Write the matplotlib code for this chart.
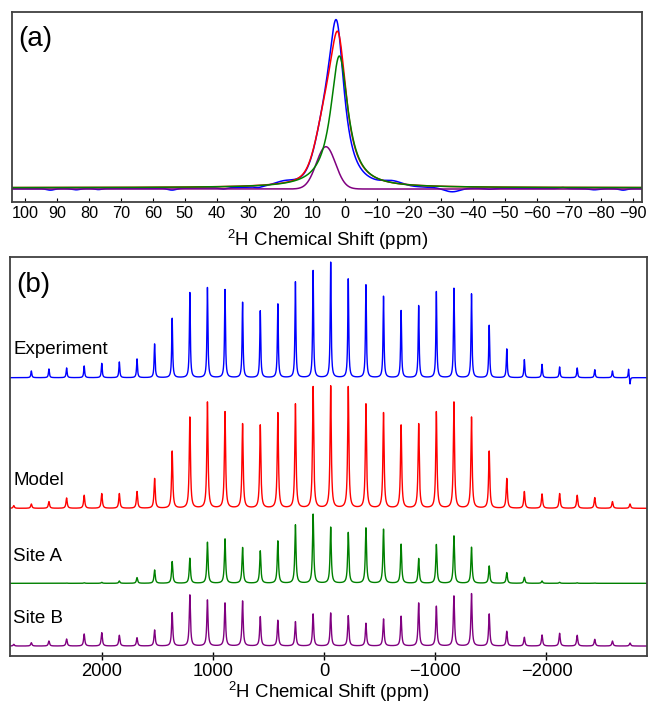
import numpy as np
import matplotlib
matplotlib.use('Agg')
import matplotlib.pyplot as plt

plt.rcParams['font.family'] = ['Liberation Sans', 'DejaVu Sans']
plt.rcParams['mathtext.fontset'] = 'custom'
plt.rcParams['mathtext.rm'] = 'Liberation Sans'
plt.rcParams['mathtext.it'] = 'Liberation Sans:italic'
plt.rcParams['mathtext.bf'] = 'Liberation Sans:bold'

# ---------------- Panel (a): centreband lineshapes (ppm, intensity) ----------------
a_ticks = list(range(100, -91, -10))
# experiment: Lorentzian main peak + Gaussian left part + small shoulders / dips
exp_a_l = (2.5, 148.0, 3.0)
exp_a_g = (6.0, 40.0, 3.0)
exp_a_base = 12.9
exp_a_feat_pos = [19.0, -15.0, -33.5, 92.0, 84.0, 77.0, 54.0, 38.0, 27.0, -45.0, -78.0, -87.0, -68.0]
exp_a_feat_h = [3.5, 4.0, -4.0, -1.5, -1.2, -1.0, -1.8, -1.2, -1.0, -1.0, -1.2, -1.5, 1.0]
exp_a_feat_w = [3.0, 3.0, 2.5, 1.2, 1.2, 1.0, 1.3, 1.2, 1.0, 1.5, 1.5, 1.2, 1.0]
# model (red): Lorentzian site A part + Gaussian site B part
model_a_l = (2.0, 137.0, 3.3)
model_a_g = (5.9, 42.3, 3.0)
model_a_base = 14.0
# site A (green): Lorentzian
siteA_a = (1.7, 131.7, 3.3)
siteA_a_base = 14.0
# site B (purple): Gaussian
siteB_a = (5.9, 42.3, 3.0)
siteB_a_base = 12.7

# ---------------- Panel (b): spinning sideband manifolds ----------------
sb_ppm = [2789, 2631, 2473, 2314, 2156, 1998, 1840, 1681, 1523, 1365, 1206, 1048,
          890, 732, 573, 415, 257, 98, -60, -218, -377, -535, -693, -851,
          -1010, -1168, -1326, -1485, -1643, -1801, -1960, -2118, -2276, -2434, -2593, -2751]
exp_h = [0, 6.7, 8.7, 9.7, 11.7, 14.3, 15.7, 18.7, 33.7, 59.3, 85, 90,
         88, 75.3, 66.7, 73.7, 95.7, 107, 115.3, 98.7, 92.7, 81.3, 67, 72,
         86, 89.3, 83.7, 52.3, 28.7, 18, 13.3, 10.7, 9.7, 8, 6.7, 0]
model_h = [2.7, 4.3, 6.7, 10.3, 13, 14.7, 14.7, 16.7, 29.7, 57, 91, 106,
           96.3, 84.3, 83, 95.3, 104, 121.3, 122, 121.3, 104, 95.3, 83, 84.3,
           96.3, 106, 91, 57, 29.7, 16.7, 14.3, 14.7, 13, 10.7, 6.7, 4.3]
siteA_h = [0, 0, 0, 0.3, 0.5, 1, 2.3, 5.7, 13.3, 21.7, 25, 41,
           44.3, 35.7, 32.3, 42.3, 58.3, 69, 56, 50.7, 55.3, 54, 39, 24.7,
           38.7, 47.3, 36, 17.3, 10.7, 6, 2.3, 1, 0.5, 0.3, 0, 0]
siteB_h = [1.7, 3.3, 5, 7, 12, 13.3, 10.7, 8.3, 16, 33.3, 51, 46,
           43, 45, 29.3, 25.7, 24.3, 32, 33, 30.3, 22.7, 27, 29.7, 43,
           39.7, 50, 52.3, 32, 14.7, 8.7, 11, 12.7, 10.7, 6.7, 5, 3]
# dispersive artefact in the experiment near the right edge
exp_disp_pos = [-2738, -2751]
exp_disp_h = [9.0, -7.0]
b_ticks = [2000, 1000, 0, -1000, -2000]
trace_names = ['Experiment', 'Model', 'Site A', 'Site B']
trace_offsets = [278.0, 147.4, 72.4, 9.7]
label_baselines = [301.4, 170.7, 95.0, 32.4]
colors = ['#0000ff', '#ff0000', '#008000', '#800080']
xlabel = r'$^{2}$H Chemical Shift (ppm)'


def lor(x, c, h, hw):
    return h / (1.0 + ((x - c) / hw) ** 2)


def gau(x, c, h, s):
    return h * np.exp(-0.5 * ((x - c) / s) ** 2)


fig = plt.figure(figsize=(6.48, 7.06), dpi=100)
axa = fig.add_axes([0.0191, 0.7143, 0.9716, 0.2683])
axb = fig.add_axes([0.0154, 0.0712, 0.9826, 0.5644])

# ---- panel (a)
xa = np.linspace(104, -93, 6001)
blue = exp_a_base + lor(xa, *exp_a_l) + gau(xa, *exp_a_g)
for p, h, w in zip(exp_a_feat_pos, exp_a_feat_h, exp_a_feat_w):
    blue = blue + gau(xa, p, h, w)
red = model_a_base + lor(xa, *model_a_l) + gau(xa, *model_a_g)
green = siteA_a_base + lor(xa, *siteA_a)
purple = siteB_a_base + gau(xa, *siteB_a)

axa.plot(xa, blue, color=colors[0], lw=1.1)
axa.plot(xa, red, color=colors[1], lw=1.1)
axa.plot(xa, purple, color=colors[3], lw=1.1)
axa.plot(xa, green, color=colors[2], lw=1.1)
axa.set_xlim(103.9, -92.9)
axa.set_ylim(0, 189.4)
axa.set_yticks([])
axa.set_xticks(a_ticks)
axa.tick_params(axis='x', direction='in', length=3, width=0.8, labelsize=11.7, pad=3)
axa.set_xlabel(xlabel, fontsize=13.4, labelpad=5)
axa.text(0.0098, 0.82, '(a)', transform=axa.transAxes, fontsize=20, ha='left', va='baseline')

# ---- panel (b)
xb = np.linspace(2823, -2901, 24001)
pos = np.array(sb_ppm, dtype=float)[:, None]


def manifold(heights, hw):
    h = np.array(heights, dtype=float)[:, None]
    return (h / (1.0 + ((xb[None, :] - pos) / hw) ** 2)).sum(axis=0)


exp_trace = manifold(exp_h, 5.0)
for p, h in zip(exp_disp_pos, exp_disp_h):
    exp_trace = exp_trace + lor(xb, p, h, 4.0)
traces = [exp_trace, manifold(model_h, 6.5), manifold(siteA_h, 6.5), manifold(siteB_h, 6.5)]

for tr, off, col in zip(traces, trace_offsets, colors):
    axb.plot(xb, tr + off, color=col, lw=1.0)
for name, yb in zip(trace_names, label_baselines):
    axb.text(2793, yb, name, fontsize=13.5, ha='left', va='baseline')

axb.set_xlim(2823, -2901)
axb.set_ylim(0, 398.4)
axb.set_yticks([])
axb.set_xticks(b_ticks)
axb.tick_params(axis='x', direction='inout', length=6, width=1.0, labelsize=13.2, pad=2)
axb.set_xlabel(xlabel, fontsize=13.4, labelpad=0.5)
axb.text(0.0105, 0.914, '(b)', transform=axb.transAxes, fontsize=20, ha='left', va='baseline')

for ax in (axa, axb):
    for s in ax.spines.values():
        s.set_color('#404040')
        s.set_linewidth(1.3)

fig.savefig('out.png', dpi=100)
